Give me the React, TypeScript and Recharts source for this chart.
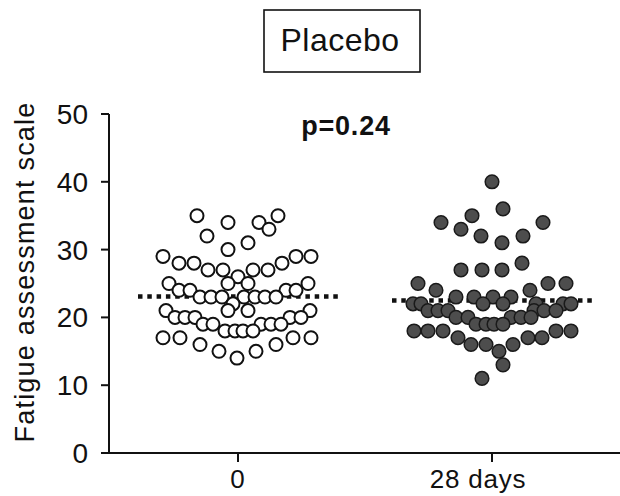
import React from 'react';
import { ScatterChart, Scatter, XAxis, YAxis, ReferenceLine } from 'recharts';

// group labels and their x position (offsets below are in the same units)
const groups = ['0', '28 days'];
const groupPos = [0, 254];
const yTicks = [0, 10, 20, 30, 40, 50];

// [offset within the swarm, fatigue score]
const baseline: [number, number][] = [
  [-41, 35], [40, 35], [-10, 34], [21, 34], [31, 33], [-31, 32], [10, 31], [-10, 30],
  [-75, 29], [58, 29], [73, 29], [-59, 28], [-44, 28], [44, 28],
  [-30, 27], [-15, 27], [15, 27], [30, 27], [0, 26],
  [-69, 25], [-10, 25], [10, 25], [70, 25], [-59, 24], [-48, 24], [48, 24], [58, 24],
  [-38, 23], [-27, 23], [-16, 23], [6, 23], [17, 23], [27, 23], [38, 23], [-5, 22],
  [-72, 21], [-10, 21], [10, 21], [72, 21], [-63, 20], [-53, 20], [-43, 20], [52, 20], [63, 20],
  [-35, 19], [-25, 19], [23, 19], [33, 19], [43, 19], [-13, 18], [-3, 18], [5, 18], [15, 18],
  [-75, 17], [-58, 17], [55, 17], [73, 17], [-38, 16], [38, 16], [-19, 15], [18, 15], [-1, 14],
];

const day28: [number, number][] = [
  [0, 40], [11, 36], [-20, 35], [-51, 34], [51, 34], [-31, 33], [-11, 32], [31, 32], [10, 31],
  [30, 28], [-31, 27], [-10, 27], [10, 27], [-74, 25], [56, 25], [74, 25], [-56, 24], [38, 24],
  [-36, 23], [-18, 23], [1, 23], [19, 23],
  [-79, 22], [-71, 22], [-9, 22], [11, 22], [44, 22], [71, 22], [79, 22],
  [-64, 21], [-54, 21], [-44, 21], [42, 21], [52, 21], [64, 21],
  [-36, 20], [-24, 20], [19, 20], [29, 20], [39, 20], [-16, 19], [-6, 19], [2, 19], [11, 19],
  [-78, 18], [-64, 18], [-49, 18], [64, 18], [79, 18], [-34, 17], [36, 17], [50, 17],
  [-21, 16], [-6, 16], [21, 16], [7, 15], [11, 13], [-10, 11],
];

const means = [23.1, 22.5];
const meanHalfWidth = 100;

const FONT = '"Liberation Sans", Arial, sans-serif';

const toPoints = (pairs: [number, number][], pos: number) =>
  pairs.map(([dx, v]) => ({ x: pos + dx, y: v }));

const OpenDot = (props: any) => (
  <circle cx={props.cx} cy={props.cy} r={6.5} fill="#fff" stroke="#111" strokeWidth={2} />
);
const FilledDot = (props: any) => (
  <circle cx={props.cx} cy={props.cy} r={6.8} fill="#4d4d4d" stroke="#1a1a1a" strokeWidth={1.5} />
);

const XTick = (props: any) => {
  const i = groupPos.indexOf(props.payload.value);
  return (
    <text x={props.x + (i === 1 ? -14 : 0)} y={props.y + 24} textAnchor="middle"
      fontFamily={FONT} fontSize={26} letterSpacing={0.8} fill="#111">
      {groups[i]}
    </text>
  );
};

const App: React.FC = () => {
  return (
    <div style={{ position: 'absolute', left: 0, top: 0, width: 620, height: 496, background: '#fff' }}>
      <ScatterChart width={620} height={496} margin={{ top: 114, right: 0, bottom: 0, left: 0 }}>
        <XAxis type="number" dataKey="x" domain={[-129, 382]} ticks={groupPos} allowDataOverflow
          height={43} tickSize={9} tickMargin={2} tick={<XTick />}
          axisLine={{ stroke: '#111', strokeWidth: 2 }} tickLine={{ stroke: '#111', strokeWidth: 2 }} />
        <YAxis type="number" dataKey="y" domain={[0, 50]} ticks={yTicks} width={109}
          tickSize={8} tickMargin={13}
          tick={{ fontSize: 28, fill: '#111', fontFamily: FONT }}
          axisLine={{ stroke: '#111', strokeWidth: 2 }} tickLine={{ stroke: '#111', strokeWidth: 2 }}
          label={{
            content: () => (
              <text x={25} y={272} transform="rotate(-90 25 272)" textAnchor="middle"
                dominantBaseline="central" fontFamily={FONT} fontSize={27} letterSpacing={1.2} fill="#111">
                Fatigue assessment scale
              </text>
            ),
          }} />
        <Scatter data={toPoints(baseline, groupPos[0])} shape={<OpenDot />} isAnimationActive={false} />
        <Scatter data={toPoints(day28, groupPos[1])} shape={<FilledDot />} isAnimationActive={false} />
        {means.map((m, i) => (
          <ReferenceLine key={i}
            segment={[{ x: groupPos[i] - meanHalfWidth, y: m }, { x: groupPos[i] + meanHalfWidth, y: m }]}
            stroke="#111" strokeWidth={4.5} strokeDasharray="4.5 4.8" />
        ))}
      </ScatterChart>
      <svg width={620} height={150} style={{ position: 'absolute', left: 0, top: 0, pointerEvents: 'none' }}>
        <rect x={264} y={10} width={156} height={62} fill="#fff" stroke="#111" strokeWidth={1.6} />
        <text x={340} y={51} textAnchor="middle" fontFamily={FONT} fontSize={32} letterSpacing={0.5} fill="#111">
          Placebo
        </text>
        <text x={346} y={135} textAnchor="middle" fontFamily={FONT} fontSize={27} fontWeight="bold"
          letterSpacing={0.8} fill="#111">
          p=0.24
        </text>
      </svg>
    </div>
  );
};

export default App;
